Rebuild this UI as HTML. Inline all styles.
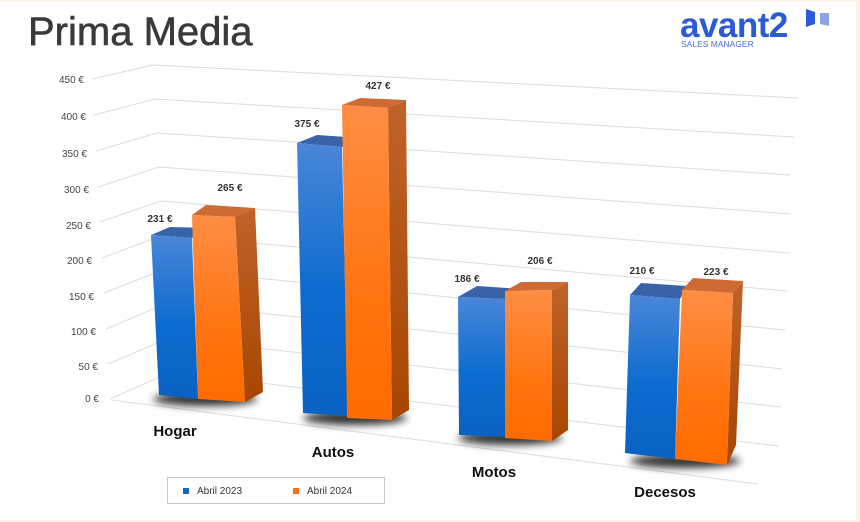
<!DOCTYPE html>
<html><head><meta charset="utf-8"><style>
html,body{margin:0;padding:0;background:#fff}
svg{display:block}
</style></head><body>
<svg width="860" height="522" viewBox="0 0 860 522" xmlns="http://www.w3.org/2000/svg" font-family="Liberation Sans, sans-serif">
<defs>
<linearGradient id="bf" x1="0" y1="0" x2="0" y2="1"><stop offset="0" stop-color="#4a86d8"/><stop offset="0.55" stop-color="#0c6ccf"/><stop offset="1" stop-color="#0a62c2"/></linearGradient>
<linearGradient id="of" x1="0" y1="0" x2="0" y2="1"><stop offset="0" stop-color="#ff8d45"/><stop offset="0.6" stop-color="#ff7410"/><stop offset="1" stop-color="#ff6c00"/></linearGradient>
<linearGradient id="os" x1="0" y1="0" x2="0" y2="1"><stop offset="0" stop-color="#c0622a"/><stop offset="1" stop-color="#a84600"/></linearGradient>
<filter id="sh" x="-30%" y="-100%" width="160%" height="300%"><feGaussianBlur stdDeviation="4"/></filter>
</defs>
<rect x="0" y="0" width="860" height="522" fill="#fff"/>
<rect x="856" y="0" width="4" height="522" fill="#fcf4e6"/>
<rect x="0" y="0" width="860" height="2" fill="#fcf4e6"/>
<rect x="0" y="520" width="860" height="2" fill="#fcf4e6"/>
<text x="28" y="45" font-size="40" fill="#3a3a3a" stroke="#3a3a3a" stroke-width="0.6">Prima Media</text>
<text x="680" y="37" font-size="35" font-weight="bold" fill="#2b5bd6" letter-spacing="-0.5">avant2</text>
<text x="681" y="47" font-size="8.5" fill="#4a70d8">SALES MANAGER</text>
<polygon points="806,9 815,12 815,24 806,27" fill="#2b5bd6"/>
<polygon points="820,13 829,13 829,26 820,24" fill="#8aa4e6"/>
<g stroke="#dcdcdc" stroke-width="1" fill="none">
<polyline points="92,79 153,65 798,98"/>
<polyline points="94,115 155,99 794,137"/>
<polyline points="96,151 157,133 790,175"/>
<polyline points="98,187 159,167 791,214"/>
<polyline points="100,222 161,201 789,253"/>
<polyline points="102,258 163,235 787,291"/>
<polyline points="104,293 165,269 785,330"/>
<polyline points="106,329 167,303 783,369"/>
<polyline points="108,364 169,338 781,407"/>
<polyline points="110,399 171,372 778,446"/>
<line x1="112" y1="400" x2="758" y2="484"/>
</g>
<g font-size="10" fill="#444" text-anchor="end">
<text x="84" y="83">450 €</text><text x="86" y="120">400 €</text><text x="87" y="157">350 €</text>
<text x="89" y="193">300 €</text><text x="91" y="229">250 €</text><text x="92" y="264">200 €</text>
<text x="94" y="300">150 €</text><text x="96" y="335">100 €</text><text x="98" y="370">50 €</text><text x="99" y="402">0 €</text>
</g>
<g fill="#000" opacity="0.8" filter="url(#sh)">
<ellipse cx="205" cy="399" rx="52" ry="7"/>
<ellipse cx="355" cy="418" rx="52" ry="7"/>
<ellipse cx="510" cy="438" rx="52" ry="7"/>
<ellipse cx="685" cy="461" rx="55" ry="7"/>
</g>
<polygon points="151,235 170,227 211,228 192,238" fill="#3a62a6"/>
<polygon points="151,235 192,238 198,399 159,395" fill="url(#bf)"/>
<polygon points="192,215 206,205 255,208 235,217" fill="#d06a34"/>
<polygon points="235,217 255,208 263,392 245,402" fill="url(#os)"/>
<polygon points="192,215 235,217 245,402 198,399" fill="url(#of)"/>
<polygon points="297,143 317,135 362,138 342,147" fill="#3a62a6"/>
<polygon points="297,143 342,147 348,416 303,413" fill="url(#bf)"/>
<polygon points="342,105 360,98 406,100 388,108" fill="#d06a34"/>
<polygon points="388,108 406,100 409,410 392,420" fill="url(#os)"/>
<polygon points="342,105 388,108 392,420 347,418" fill="url(#of)"/>
<polygon points="458,297 477,286 522,289 505,299" fill="#3a62a6"/>
<polygon points="458,297 505,299 505,437 459,435" fill="url(#bf)"/>
<polygon points="505,291 521,282 568,282 552,290" fill="#d06a34"/>
<polygon points="552,290 568,282 568,430 552,441" fill="url(#os)"/>
<polygon points="505,291 552,290 552,441 505,438" fill="url(#of)"/>
<polygon points="630,295 641,283 687,286 680,299" fill="#3a62a6"/>
<polygon points="630,295 680,299 675,459 625,453" fill="url(#bf)"/>
<polygon points="682,290 693,278 743,281 733,293" fill="#d06a34"/>
<polygon points="733,293 743,281 736,445 727,465" fill="url(#os)"/>
<polygon points="682,290 733,293 727,465 675,459" fill="url(#of)"/>
<g font-size="10" font-weight="bold" fill="#333" text-anchor="middle">
<text x="160" y="222">231 €</text><text x="230" y="191">265 €</text>
<text x="307" y="127">375 €</text><text x="378" y="89">427 €</text>
<text x="467" y="282">186 €</text><text x="540" y="264">206 €</text>
<text x="642" y="274">210 €</text><text x="716" y="275">223 €</text>
</g>
<g font-size="15" font-weight="bold" fill="#111" text-anchor="middle">
<text x="175" y="436">Hogar</text><text x="333" y="457">Autos</text>
<text x="494" y="477">Motos</text><text x="665" y="497">Decesos</text>
</g>
<rect x="167.5" y="477.5" width="217" height="26" fill="#fff" stroke="#c8c8c8"/>
<rect x="183" y="488" width="6" height="6" fill="#1565c8"/>
<text x="197" y="494" font-size="10" fill="#333">Abril 2023</text>
<rect x="293" y="488" width="6" height="6" fill="#ff7010"/>
<text x="307" y="494" font-size="10" fill="#333">Abril 2024</text>
</svg>
</body></html>
